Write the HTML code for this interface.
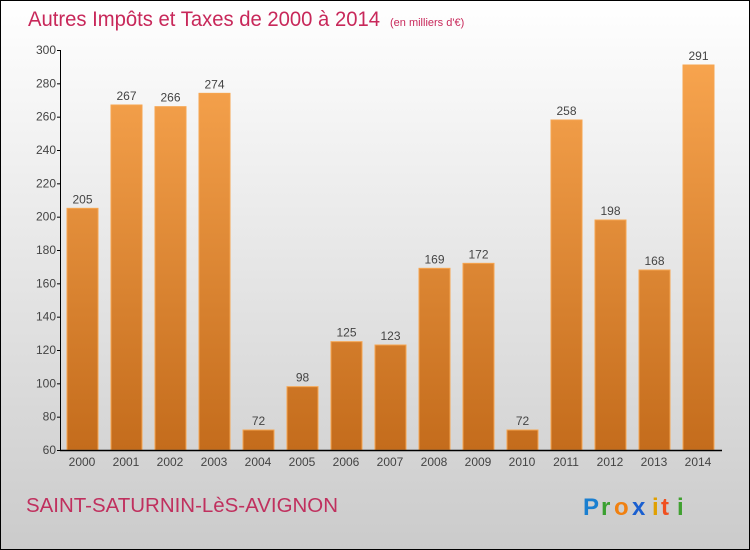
<!DOCTYPE html>
<html><head><meta charset="utf-8"><style>
html,body{margin:0;padding:0;width:750px;height:550px;overflow:hidden}
svg{display:block;font-family:"Liberation Sans",sans-serif}
</style></head><body>
<svg id="chart" width="750" height="550" viewBox="0 0 750 550">
<defs>
<linearGradient id="bg" x1="0" y1="0" x2="0" y2="1"><stop offset="0" stop-color="#ffffff"/><stop offset="1" stop-color="#cbcbcb"/></linearGradient>
<linearGradient id="bar" gradientUnits="userSpaceOnUse" x1="0" y1="50" x2="0" y2="450"><stop offset="0" stop-color="#f9a650"/><stop offset="1" stop-color="#c46c1c"/></linearGradient>
</defs>
<rect x="0.5" y="0.5" width="749" height="549" fill="url(#bg)" stroke="#000"/>
<text x="28" y="26" font-size="21" fill="#c8285a"><tspan textLength="352" lengthAdjust="spacingAndGlyphs">Autres Impôts et Taxes de 2000 à 2014</tspan><tspan font-size="11" x="390">(en milliers d'€)</tspan></text>
<g id="bars"></g>
<g id="axes"></g>
<text x="26" y="512" font-size="20" fill="#c0305e" textLength="312" lengthAdjust="spacingAndGlyphs">SAINT-SATURNIN-LèS-AVIGNON</text>
<g font-size="24" font-weight="bold" font-family="'Liberation Sans',sans-serif">
<text x="583" y="515" fill="#1a7fd0">P</text><text x="601" y="515" fill="#3aa030">r</text><text x="614" y="515" fill="#f08010">o</text><text x="632" y="515" fill="#1a5fd0">x</text><text x="652" y="515" fill="#e0a000">i</text><text x="661" y="515" fill="#f05020">t</text><text x="677" y="515" fill="#40a030">i</text>
</g>
</svg>
<script>
const years=["2000","2001","2002","2003","2004","2005","2006","2007","2008","2009","2010","2011","2012","2013","2014"];
const values=[205,267,266,274,72,98,125,123,169,172,72,258,198,168,291];
const yTicks=[60,80,100,120,140,160,180,200,220,240,260,280,300];
const NS="http://www.w3.org/2000/svg";
const y=v=>450-(v-60)*400/240;
const x=i=>82+i*44;
const bars=document.getElementById('bars'),axes=document.getElementById('axes');
function mk(tag,attrs,parent,txt){const e=document.createElementNS(NS,tag);for(const k in attrs)e.setAttribute(k,attrs[k]);if(txt!==undefined)e.textContent=txt;parent.appendChild(e);return e;}
values.forEach((v,i)=>{
  const r=mk('rect',{x:x(i)-15,y:y(v),width:31,height:450-y(v),fill:'url(#bar)',stroke:'#f6a550','stroke-width':1},bars);
  
  
  const t=mk('text',{x:x(i)+0.5,y:y(v)-5,'font-size':12,'text-anchor':'middle',fill:'#444'},bars,String(v));
  
  
  const xl=mk('text',{x:x(i),y:466,'font-size':12,'text-anchor':'middle',fill:'#444'},axes,years[i]);
  
  
});
const ya=mk('line',{x1:60.5,y1:50,x2:60.5,y2:451,stroke:'#000'},axes);


const xa=mk('line',{x1:60,y1:450.5,x2:722,y2:450.5,stroke:'#000','stroke-width':1.5},axes);


yTicks.forEach(v=>{
  mk('line',{x1:57,y1:y(v)+0.5,x2:61,y2:y(v)+0.5,stroke:'#000'},axes);
  const t=mk('text',{x:56,y:y(v)+4,'font-size':12,'text-anchor':'end',fill:'#444'},axes,String(v));
  
  
});
</script>
</body></html>
